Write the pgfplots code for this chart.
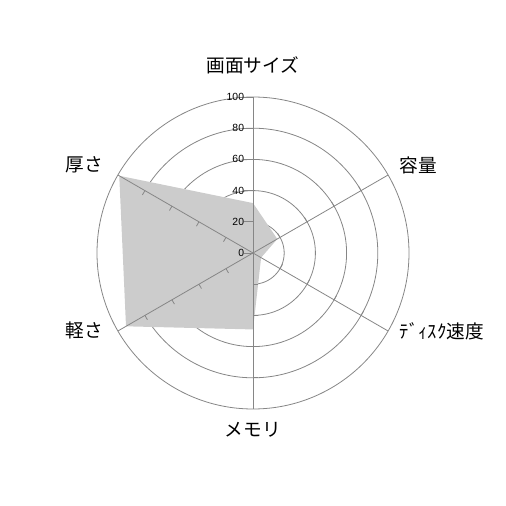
\documentclass[border=0pt]{standalone}
\usepackage{pgfplots}
\pgfplotsset{compat=1.18}
\usepgfplotslibrary{polar}
\usepackage{fontspec}
\setmainfont{Liberation Sans}
\newfontfamily\jp{Noto Sans CJK JP}
\definecolor{gridgray}{RGB}{134,134,134}
\definecolor{areagray}{RGB}{204,204,204}

\begin{document}
\begin{tikzpicture}
\begin{polaraxis}[
  scale only axis, width=234pt, height=234pt,
  clip=false,
  xmin=0, xmax=360, ymin=0, ymax=100,
  xtick=\empty, ytick={20,40,60,80}, yticklabels={},
  ymajorgrids,
  major grid style={gridgray, line width=0.6pt},
  separate axis lines,
  x axis line style={gridgray, line width=0.6pt},
  y axis line style={draw=none},
  major tick length=0pt,
]
% bounding box: 506 x 506 px, 1px = 0.75pt
\path (axis cs:0,0) ++(-189.75pt,-189.75pt) rectangle ++(379.5pt,379.5pt);

% 画面サイズ, 容量, ディスク速度, メモリ, 軽さ, 厚さ
\addplot[fill=areagray, draw=none] coordinates {
  (90,32) (30,18) (330,6) (270,49) (210,94) (150,99) (90,32)
};

% spokes
\draw[gridgray, line width=0.6pt] (axis cs:90,0) -- (axis cs:90,100);
\draw[gridgray, line width=0.6pt] (axis cs:30,0) -- (axis cs:30,100);
\draw[gridgray, line width=0.6pt] (axis cs:330,0) -- (axis cs:330,100);
\draw[gridgray, line width=0.6pt] (axis cs:270,0) -- (axis cs:270,100);
\draw[gridgray, line width=0.6pt] (axis cs:210,0) -- (axis cs:210,100);
\draw[gridgray, line width=0.6pt] (axis cs:150,0) -- (axis cs:150,100);

% ticks on the spokes
\pgfplotsinvokeforeach{20,40,60,80}{
  \draw[gridgray, line width=0.6pt] (axis cs:30,#1) -- ++(120:3.75pt);
  \draw[gridgray, line width=0.6pt] (axis cs:330,#1) -- ++(60:3.75pt);
  \draw[gridgray, line width=0.6pt] (axis cs:270,#1) -- ++(0:3.75pt);
  \draw[gridgray, line width=0.6pt] (axis cs:210,#1) -- ++(300:3.75pt);
  \draw[gridgray, line width=0.6pt] (axis cs:150,#1) -- ++(240:3.75pt);
}
\pgfplotsinvokeforeach{0,20,40,60,80,100}{
  \draw[gridgray, line width=0.6pt] (axis cs:90,#1) -- ++(180:6.75pt);
  \node[anchor=east, inner sep=0pt, font=\fontsize{7.8}{9}\selectfont]
    at ([xshift=-6.5pt]axis cs:90,#1) {#1};
}

% category labels
\begin{scope}[every node/.style={font=\jp\fontsize{14}{16}\selectfont, inner sep=0pt}]
\node at (axis cs:90,120) {画面サイズ};
\node at (axis cs:28,120) {容量};
\node at (axis cs:337.6,131) {ﾃﾞｨｽｸ速度};
\node at (axis cs:270,113.5) {メモリ};
\node at (axis cs:204.7,119) {軽さ};
\node at (axis cs:152.4,122) {厚さ};
\end{scope}
\end{polaraxis}
\end{tikzpicture}
\end{document}
